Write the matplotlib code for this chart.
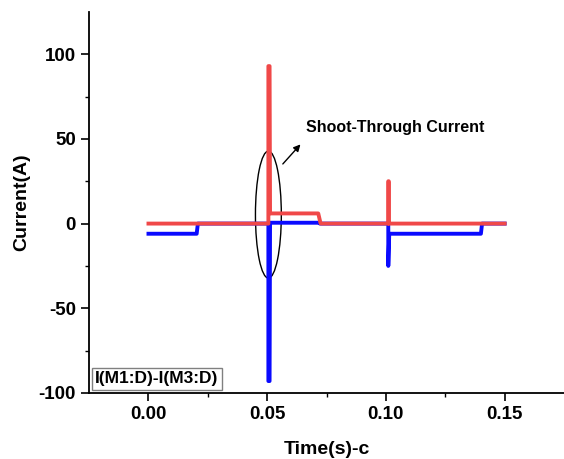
import matplotlib
matplotlib.use("Agg")
import matplotlib.pyplot as plt
from matplotlib.patches import Ellipse

plt.rcParams['font.family'] = ['Liberation Sans', 'DejaVu Sans']
plt.rcParams['font.weight'] = 'bold'
plt.rcParams['axes.unicode_minus'] = False

# I(M1:D) - красная кривая
t_red = [0.0, 0.0505, 0.0505, 0.0510, 0.0512, 0.0715, 0.0725, 0.1010, 0.1010, 0.1012, 0.1012, 0.150]
i_red = [0.0, 0.0, 93.0, 93.0, 6.0, 6.0, 0.0, 0.0, 25.0, 25.0, 0.0, 0.0]

# I(M3:D) - синяя кривая
t_blue = [0.0, 0.0203, 0.0208, 0.0505, 0.0505, 0.0510, 0.0512, 0.0718, 0.0722, 0.1010, 0.1010, 0.1014, 0.1400, 0.1405, 0.150]
i_blue = [-6.0, -6.0, 0.0, 0.0, -93.0, -93.0, 0.5, 0.5, 0.0, 0.0, -25.0, -6.0, -6.0, 0.0, 0.0]

fig = plt.figure(figsize=(5.64, 4.59), dpi=100)
ax = fig.add_axes([0.158, 0.144, 0.842, 0.830])

ax.plot(t_blue, i_blue, color='#0a0aff', lw=2.8)
ax.plot(t_red, i_red, color='#f04848', lw=2.8)

ax.set_xlim(-0.025, 0.175)
ax.set_ylim(-100, 125)
ax.set_xticks([0.0, 0.05, 0.10, 0.15])
ax.set_xticklabels(['0.00', '0.05', '0.10', '0.15'])
ax.set_yticks([-100, -50, 0, 50, 100])
ax.set_xticks([0.025, 0.075, 0.125], minor=True)
ax.set_yticks([-75, -25, 25, 75], minor=True)
ax.tick_params(which='major', direction='out', length=6, width=1.2, labelsize=13.5)
ax.tick_params(which='minor', direction='out', length=3, width=1.0)
ax.spines['top'].set_visible(False)
ax.spines['right'].set_visible(False)
ax.spines['left'].set_linewidth(1.3)
ax.spines['bottom'].set_linewidth(1.3)

ax.set_xlabel('Time(s)-c', fontsize=14, fontweight='bold', labelpad=13)
ax.set_ylabel('Current(A)', fontsize=14, fontweight='bold', labelpad=6)

# эллипс вокруг сквозного тока
ax.add_patch(Ellipse((0.0505, 5.3), 0.0109, 75, fill=False, edgecolor='black', lw=1.0))
ax.annotate('', xy=(0.0648, 48), xytext=(0.0558, 34),
            arrowprops=dict(arrowstyle='-|>', color='black', lw=1.0, mutation_scale=10))
ax.text(0.0665, 56.5, 'Shoot-Through Current', fontsize=11.5, fontweight='bold', va='center')

ax.text(0.013, 0.037, 'I(M1:D)-I(M3:D)', transform=ax.transAxes, fontsize=12.5,
        fontweight='bold', va='center',
        bbox=dict(boxstyle='square,pad=0.2', facecolor='white', edgecolor='gray', lw=1.0))

fig.savefig('out.png', dpi=100)
